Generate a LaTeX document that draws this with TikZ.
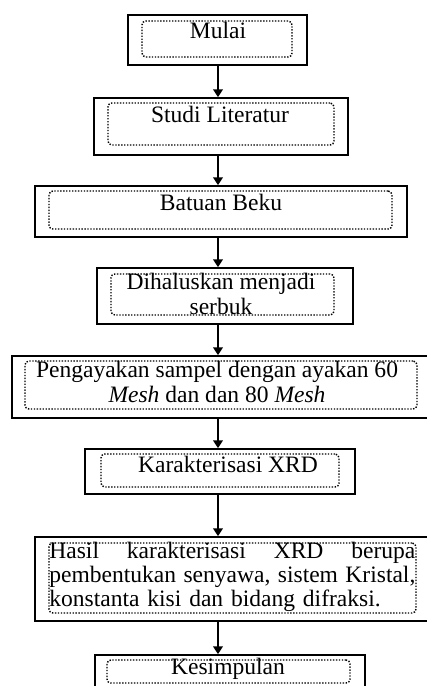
\documentclass[tikz,border=0pt]{standalone}
\usepackage{fontspec}
\setmainfont{Liberation Serif}
\usetikzlibrary{arrows.meta,positioning,fit}
\tikzset{
  outerbox/.style={draw=black,line width=0.9pt,inner sep=0pt},
  innerbox/.style={draw=black,line width=0.75pt,dash pattern=on 0.7pt off 0.8pt,
                   rounded corners=2pt,inner sep=0pt},
  steptext/.style={inner sep=0pt,align=center,
                   font=\fontsize{12}{12.5}\selectfont},
  downarr/.style={-{Triangle[length=4pt,width=5pt]},line width=0.8pt,draw=black}
}

\begin{document}
\begin{tikzpicture}[x=0.51pt,y=-0.51pt]
    \useasboundingbox (0,0) rectangle (426,686);
    \coordinate (col) at (218,0);

    % outer frames
    \node[outerbox,fit={(128,15) (307,65)}]   (mulai)  {};
    \node[outerbox,fit={(94,98) (348,155)}]   (studi)  {};
    \node[outerbox,fit={(35,186) (407,237)}]  (batuan) {};
    \node[outerbox,fit={(97,268) (353,324)}]  (halus)  {};
    \node[outerbox,fit={(12,356) (440,418)}]  (ayak)   {};
    \node[outerbox,fit={(85,449) (355,494)}]  (xrd)    {};
    \node[outerbox,fit={(35,537) (440,621)}]  (hasil)  {};
    \node[outerbox,fit={(95,655) (365,700)}]  (simpul) {};

    % dotted text boxes
    \node[innerbox,fit={(142,21) (292,57)}]   (mulaiin)  {};
    \node[innerbox,fit={(108,103) (334,145)}] (studiin)  {};
    \node[innerbox,fit={(49,191) (392,229)}]  (batuanin) {};
    \node[innerbox,fit={(111,274) (334,315)}] (halusin)  {};
    \node[innerbox,fit={(25,361) (417,409)}]  (ayakin)   {};
    \node[innerbox,fit={(101,454) (339,487)}] (xrdin)    {};
    \node[innerbox,fit={(49,543) (416,613)}]  (hasilin)  {};
    \node[innerbox,fit={(107,660) (350,683)}] (simpulin) {};

    % texts
    \node[steptext] (mulaitx)  at (218,30)  {Mulai};
    \node[steptext] (studitx)  at (220,114) {Studi Literatur};
    \node[steptext] (batuantx) at (221,202) {Batuan Beku};
    \node[steptext] (halustx)  at (221,294) {Dihaluskan menjadi\\ serbuk};
    \node[steptext] (ayaktx)   at (217,382)
      {Pengayakan sampel dengan ayakan 60\\ \textit{Mesh} dan dan 80 \textit{Mesh}};
    \node[steptext] (xrdtx)    at (228,464) {Karakterisasi XRD};
    \node[steptext,align=left,text width=366*0.51pt,anchor=west,
          font=\fontsize{12}{12.4}\selectfont] (hasiltx) at (49,577)
      {Hasil\hfill karakterisasi\hfill XRD\hfill berupa\\
       pembentukan\hfill senyawa,\hfill sistem\hfill Kristal,\\
       konstanta kisi dan bidang difraksi.};
    \node[steptext] (simpultx) at (228,669) {Kesimpulan};

    % arrows
    \draw[downarr] (mulai.south -| col)  -- (studi.north -| col);
    \draw[downarr] (studi.south -| col)  -- (batuan.north -| col);
    \draw[downarr] (batuan.south -| col) -- (halus.north -| col);
    \draw[downarr] (halus.south -| col)  -- (ayak.north -| col);
    \draw[downarr] (ayak.south -| col)   -- (xrd.north -| col);
    \draw[downarr] (xrd.south -| col)    -- (hasil.north -| col);
    \draw[downarr] (hasil.south -| col)  -- (simpul.north -| col);
\end{tikzpicture}
\end{document}
